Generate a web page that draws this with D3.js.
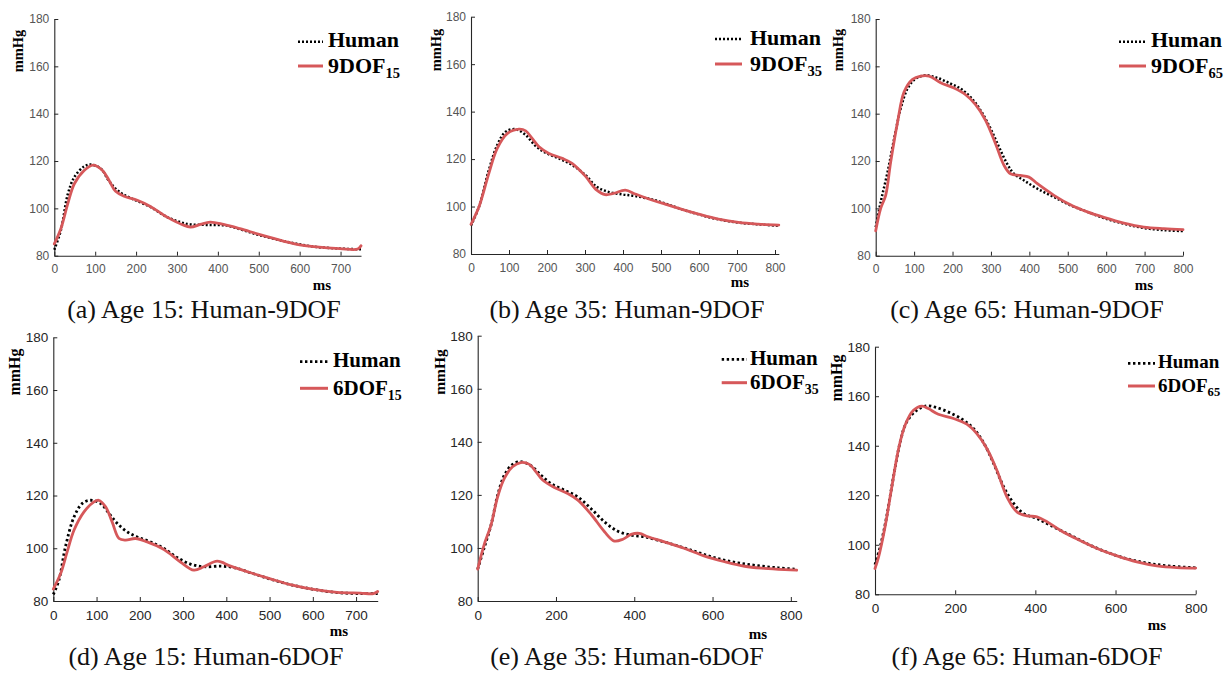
<!DOCTYPE html>
<html>
<head>
<meta charset="utf-8">
<script src="https://cdn.jsdelivr.net/npm/d3@7"></script>
<style>
  html, body { margin: 0; padding: 0; background: #fff; }
  svg { display: block; }
</style>
</head>
<body>
<svg id="fig" width="1226" height="674"></svg>
<script>
// Aortic pressure waveforms (mmHg over one beat, ms): measured human vs. model.
const yTicks = [80, 100, 120, 140, 160, 180];
const xTicks100_700 = [0, 100, 200, 300, 400, 500, 600, 700];
const xTicks100_800 = [0, 100, 200, 300, 400, 500, 600, 700, 800];
const xTicks200_800 = [0, 200, 400, 600, 800];

// Age 15
const human15 = [[0,82.5],[16,90.7],[33,106],[49,113.2],[73,117.7],[89,118.5],[114,116.8],[130,112.5],[146,109],[166,106.2],[195,103.7],[235,100.6],[276,96.3],[308,94.2],[333,93.2],[373,93],[422,92.7],[463,90.7],[503,88.6],[560,86.2],[600,84.8],[641,83.7],[698,83],[750,82.7]];
const dof9_15 = [[0,85],[16,91.4],[33,102],[49,110.4],[73,116],[95,118.3],[118,116],[134,111.8],[150,107.2],[171,105.1],[203,103.4],[235,100.8],[276,96.3],[312,93.2],[333,92.1],[357,93.2],[381,94.2],[414,93.2],[454,91.4],[503,88.9],[560,86.2],[600,84.6],[641,83.7],[698,83],[742,82.8],[750,84.2]];
const humanD15 = [[0,82.5],[13,87.9],[28,100.5],[48,111.9],[67,117],[86,118.2],[109,117],[129,113.2],[148,109.4],[171,106.2],[194,104.3],[225,102.4],[256,99.9],[286,96.5],[317,94],[348,93],[387,93.2],[417,92.7],[456,90.7],[502,88.3],[548,86.2],[602,84.4],[656,83.2],[710,82.8],[750,82.8]];
const dof6_15 = [[0,84.5],[17,90.4],[32,98.6],[48,106.9],[71,113.8],[94,117.6],[105,118.2],[121,115.7],[136,110],[152,103.7],[167,103.1],[190,103.7],[217,102.4],[256,99.5],[294,94.8],[325,91.7],[348,93],[379,95.1],[410,93.2],[456,90.7],[502,88.4],[548,86.2],[602,84.4],[656,83.3],[710,83],[740,82.8],[750,83.6]];

// Age 35
const human35 = [[0,92],[21,99.9],[47,115.4],[69,125.9],[91,131.5],[117,132.6],[144,130.1],[170,125.5],[196,122.7],[231,120.3],[266,117.5],[301,113.3],[331,108.3],[362,106.2],[398,105.1],[432,104.4],[476,103],[511,101.3],[555,98.8],[599,96.7],[651,94.6],[704,93.2],[756,92.5],[810,91.9]];
const dof9_35 = [[0,92.5],[21,99.9],[47,114],[69,124.5],[96,130.8],[126,132.6],[144,131.9],[161,128.7],[179,125.2],[205,122.4],[240,120.3],[266,118.2],[301,112.8],[331,106.9],[353,105],[375,105.5],[406,106.9],[432,105.3],[459,103.7],[511,101],[555,98.8],[599,96.8],[651,94.7],[704,93.3],[756,92.6],[810,92.2]];
const humanE35 = [[0,92],[16,99.8],[34,108.6],[51,119.9],[68,127.4],[89,131.5],[110,132.5],[136,131],[162,127.4],[187,124.3],[221,121.8],[255,119.3],[289,114.9],[324,109.8],[358,106.3],[392,104.8],[426,104.2],[460,102.9],[511,100.8],[563,98.3],[614,96],[665,94.4],[716,93.3],[768,92.5],[815,92]];
const dof6_35 = [[0,92],[16,101],[34,108.6],[51,119.3],[68,126.2],[89,130.6],[110,132.2],[132,131.5],[149,128.7],[166,125.6],[196,122.8],[230,120.5],[256,118],[290,112.6],[324,106.1],[349,102.6],[371,103.3],[392,105.1],[413,105.5],[435,104.2],[477,102.3],[529,99.8],[580,96.9],[631,94.8],[682,93.1],[733,92.3],[785,91.8],[815,91.6]];

// Age 65
const human65 = [[0,92],[13,102.7],[31,115.4],[48,129.4],[65,142.1],[83,150.6],[104,154.8],[130,156.2],[161,155.1],[195,152.7],[221,150.6],[247,147],[273,141.4],[299,133.7],[321,125.9],[342,118.9],[360,114.6],[386,111.8],[421,108.3],[464,104.8],[507,101.3],[551,98.5],[594,95.9],[646,93.5],[698,91.7],[750,90.8],[800,90.4]];
const dof9_65 = [[0,90.5],[13,100],[26,105.5],[39,119.6],[57,136.5],[74,149.2],[96,154.5],[117,155.9],[139,155.9],[169,153.1],[204,150.8],[234,148],[260,143.8],[286,137.2],[312,127.3],[334,118.2],[351,114.6],[377,113.9],[399,113.2],[421,110.4],[464,105.5],[507,101.5],[551,98.5],[594,96.2],[646,93.8],[698,92.1],[750,91.4],[800,91]];
const humanF65 = [[0,92],[13,99.2],[29,111.3],[46,127.4],[63,141.6],[79,149.6],[104,154.3],[129,156.1],[154,155.4],[187,153.3],[221,150.3],[246,146.9],[271,141.2],[296,132.8],[321,123.4],[346,116.7],[371,112.6],[404,110.6],[437,107.9],[487,103.9],[537,99.8],[587,96.5],[637,94],[687,92.4],[737,91.4],[800,90.7]];
const dof6_65 = [[0,90.4],[9,95.1],[25,107.2],[42,123.4],[59,138.9],[75,148.3],[96,154.3],[117,156],[133,155],[158,152.7],[196,151],[229,148.7],[254,144.9],[279,138.9],[304,130.1],[329,119.4],[354,113.3],[379,111.7],[404,111.3],[429,109.3],[462,105.9],[504,102.3],[554,98.5],[604,95.5],[653,93.1],[703,91.5],[753,90.8],[800,90.6]];

const captions = [
  "(a) Age 15: Human-9DOF", "(b) Age 35: Human-9DOF", "(c) Age 65: Human-9DOF",
  "(d) Age 15: Human-6DOF", "(e) Age 35: Human-6DOF", "(f) Age 65: Human-6DOF"
];
const modelNames = ["9DOF", "9DOF", "9DOF", "6DOF", "6DOF", "6DOF"];
const modelSubs = ["15", "35", "65", "15", "35", "65"];
const xMaxes = [750, 810, 800, 750, 815, 800];

const RED = "#d6585a";
const SERIF = "'Liberation Serif','Times New Roman',Times,serif";
const SANS = "'Liberation Sans',Arial,Helvetica,sans-serif";

// Layout of each panel on the page
const panels = [
  { human: human15, model: dof9_15, xTicks: xTicks100_700,
    box: [54.3, 361, 19, 255.7], leg: [298, 323, 41.7, 66, 328, 22], ylab: [23, 51, 14.5], ms: [322, 290],
    cap: [204, 318], tick: [12, "#555"], dot: [2.5, "2,2"], row: 0 },
  { human: human35, model: dof9_35, xTicks: xTicks100_800,
    box: [471, 778.8, 16.7, 254], leg: [715, 742, 39, 64, 750, 22], ylab: [441, 50, 14.5], ms: [740, 287],
    cap: [627, 318], tick: [12, "#555"], dot: [2.5, "2,2"], row: 0 },
  { human: human65, model: dof9_65, xTicks: xTicks100_800,
    box: [875.7, 1183, 19, 255.7], leg: [1119, 1146, 41.7, 66, 1151, 22], ylab: [843, 50, 14.5], ms: [1144, 290],
    cap: [1027, 318], tick: [12, "#555"], dot: [2.5, "2,2"], row: 0 },
  { human: humanD15, model: dof6_15, xTicks: xTicks100_700,
    box: [53.3, 377.7, 337.3, 601], leg: [300, 328, 361.7, 388.3, 333, 21], ylab: [20, 372, 16], ms: [339, 636],
    cap: [206, 665], tick: [13.5, "#262626"], dot: [2.8, "2.4,2.6"], row: 1 },
  { human: humanE35, model: dof6_35, xTicks: xTicks200_800,
    box: [477.7, 796.7, 335.7, 601], leg: [721.7, 747, 359.3, 382.7, 750, 21], ylab: [445, 372, 15.5], ms: [758, 639],
    cap: [627, 665], tick: [13.5, "#262626"], dot: [2.8, "2.4,2.6"], row: 1 },
  { human: humanF65, model: dof6_65, xTicks: xTicks200_800,
    box: [875, 1195.7, 346.7, 594.3], leg: [1128, 1155, 363.3, 386, 1158, 19], ylab: [842, 378, 16], ms: [1157, 630],
    cap: [1027, 665], tick: [13.5, "#262626"], dot: [2.8, "2.4,2.6"], row: 1 }
];

const svg = d3.select("#fig");
svg.append("rect").attr("width", 1226).attr("height", 674).attr("fill", "#fff");

panels.forEach((p, i) => {
  const [left, right, top, bottom] = p.box;
  const x = d3.scaleLinear().domain([0, xMaxes[i]]).range([left, right]);
  const y = d3.scaleLinear().domain([80, 180]).range([bottom, top]);
  const g = svg.append("g");

  // axes with inward ticks, MATLAB style
  const yAxis = g.append("g").attr("transform", `translate(${left},0)`)
    .call(d3.axisLeft(y).tickValues(yTicks).tickSizeInner(-4).tickSizeOuter(0).tickPadding(5));
  const xAxis = g.append("g").attr("transform", `translate(0,${bottom})`)
    .call(d3.axisBottom(x).tickValues(p.xTicks).tickSizeInner(-4).tickSizeOuter(0).tickPadding(9));
  [yAxis, xAxis].forEach(a => {
    a.select(".domain").attr("stroke", "#262626").attr("stroke-width", 1.1);
    a.selectAll(".tick line").attr("stroke", "#262626");
    a.selectAll(".tick text").attr("font-family", SANS).attr("font-size", p.tick[0]).attr("fill", p.tick[1]);
  });

  const line = d3.line().x(d => x(d[0])).y(d => y(d[1])).curve(d3.curveCatmullRom.alpha(0.5));

  g.append("path").datum(p.human).attr("d", line)
    .attr("fill", "none").attr("stroke", "#000").attr("stroke-width", p.dot[0])
    .attr("stroke-dasharray", p.dot[1]);
  g.append("path").datum(p.model).attr("d", line)
    .attr("fill", "none").attr("stroke", RED).attr("stroke-width", 2.8)
    .attr("stroke-linejoin", "round").attr("stroke-linecap", "round");

  // legend
  const [lx1, lx2, ly1, ly2, tx, fs] = p.leg;
  g.append("line").attr("x1", lx1).attr("x2", lx2).attr("y1", ly1).attr("y2", ly1)
    .attr("stroke", "#000").attr("stroke-width", p.dot[0]).attr("stroke-dasharray", p.dot[1]);
  g.append("line").attr("x1", lx1).attr("x2", lx2).attr("y1", ly2).attr("y2", ly2)
    .attr("stroke", RED).attr("stroke-width", 3);
  g.append("text").attr("x", tx).attr("y", ly1 + fs * 0.25)
    .attr("font-family", SERIF).attr("font-weight", "bold").attr("font-size", fs)
    .text("Human");
  const mt = g.append("text").attr("x", tx).attr("y", ly2 + fs * 0.3)
    .attr("font-family", SERIF).attr("font-weight", "bold").attr("font-size", fs);
  mt.append("tspan").text(modelNames[i]);
  mt.append("tspan").attr("font-size", fs * 0.66).attr("dy", fs * 0.25).text(modelSubs[i]);

  // axis titles
  g.append("text")
    .attr("transform", `translate(${p.ylab[0]},${p.ylab[1]}) rotate(-90)`)
    .attr("text-anchor", "middle")
    .attr("font-family", SERIF).attr("font-weight", "bold").attr("font-size", p.ylab[2])
    .text("mmHg");
  g.append("text").attr("x", p.ms[0]).attr("y", p.ms[1]).attr("text-anchor", "middle")
    .attr("font-family", SERIF).attr("font-weight", "bold").attr("font-size", 15)
    .text("ms");

  // caption
  g.append("text").attr("x", p.cap[0]).attr("y", p.cap[1]).attr("text-anchor", "middle")
    .attr("font-family", SERIF).attr("font-size", 26).attr("fill", "#111")
    .text(captions[i]);
});
</script>
</body>
</html>
